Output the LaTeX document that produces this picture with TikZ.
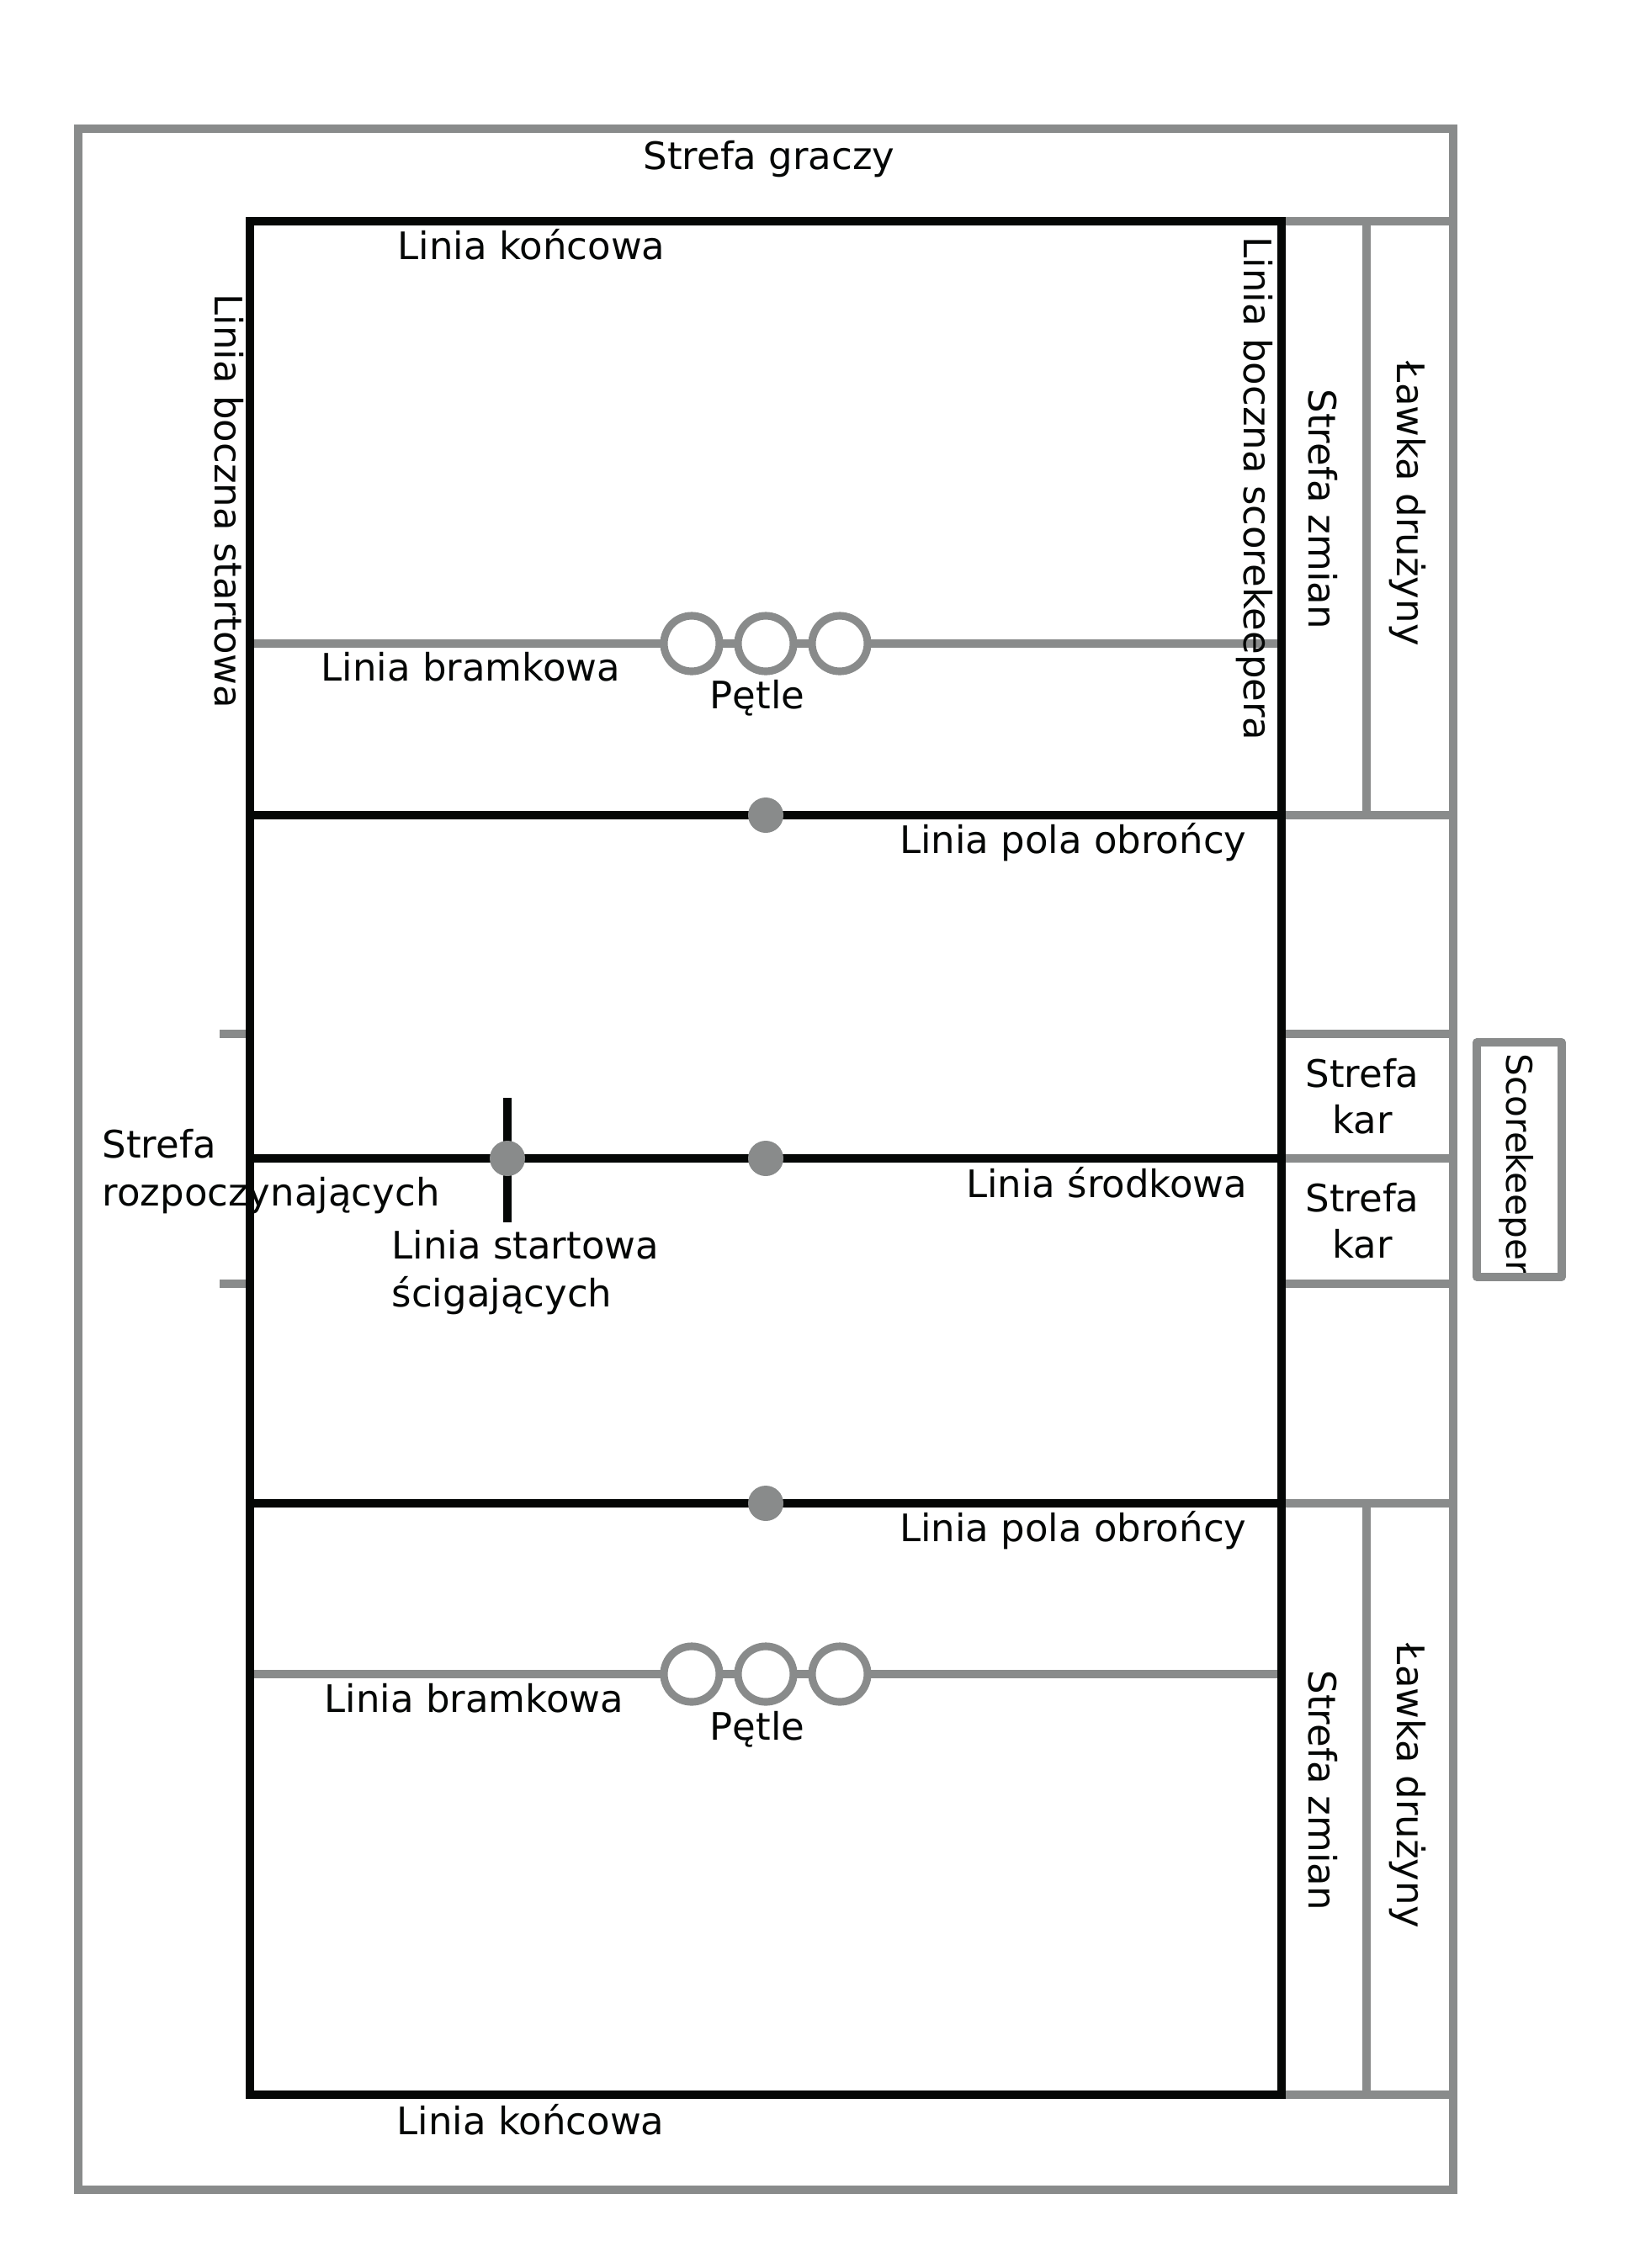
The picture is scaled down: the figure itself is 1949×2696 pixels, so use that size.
\documentclass[tikz,border=0pt]{standalone}
\usepackage{fontspec}
\setmainfont{DejaVu Sans}
\definecolor{lanegrey}{HTML}{898B8B}
\definecolor{courtink}{HTML}{050706}

\begin{document}
\begin{tikzpicture}[
  x=0.01cm,
  y=-0.01cm,
  every node/.style={font=\fontsize{12.8}{15.4}\selectfont, courtink, inner sep=0pt},
  zone/.style={lanegrey, line width=2.7pt},
  court/.style={courtink, line width=2.8pt},
  hoop/.style={lanegrey, line width=2.6pt, fill=white},
  spot/.style={lanegrey, fill=lanegrey},
  side/.style={rotate=-90, anchor=base west},
  wide/.style={font=\fontsize{12.8}{16.2}\selectfont}
]
  \useasboundingbox (0,0) rectangle (1949,2696);

  % ---- player area and the boxes along the scorekeeper side ------------
  \draw[zone] (93,153) rectangle (1727,2603);
  \foreach \y in {263, 969, 1229, 1377, 1526, 1787, 2490}
    \draw[zone] (1523,\y) -- (1727,\y);
  \draw[zone] (1624,263) -- (1624,969);
  \draw[zone] (1624,1787) -- (1624,2490);

  % marks for the starting zone on the other side
  \foreach \y in {1229, 1526}
    \draw[zone] (261,\y) -- (297,\y);

  % ---- goal lines with their hoops --------------------------------------
  \foreach \y in {765, 1990} {
    \draw[zone] (297,\y) -- (1523,\y);
    \foreach \x in {822, 910, 998}
      \draw[hoop] (\x,\y) circle[radius=33];
  }

  % ---- the pitch ---------------------------------------------------------
  \draw[court] (297,263) rectangle (1523,2490);
  \foreach \y in {969, 1377, 1787}
    \draw[court] (297,\y) -- (1523,\y);
  \draw[court] (603,1305) -- (603,1453);

  \foreach \p in {(910,969), (910,1377), (910,1787), (603,1377)}
    \fill[spot] \p circle[radius=21];

  % ---- scorekeeper's table -----------------------------------------------
  % the word runs a little past the box and is cut off by its frame
  \begin{scope}
    \clip (1760,1244) rectangle (1851,1514);
    \node[side, font=\fontsize{12}{14.4}\selectfont] (scorekeeper)
      at (1790,1252) {Scorekeeper};
  \end{scope}
  \draw[zone, line join=round] (1755,1239) rectangle (1856,1518);

  % ---- labels, upper half ------------------------------------------------
  \node[anchor=base] (graczy) at (914,201) {Strefa graczy};
  \node[anchor=base west] (koncowaN) at (472,308) {Linia końcowa};
  \node[side] (startowa) at (255,349) {Linia boczna startowa};
  \node[side] (bocznaScore) at (1478,281) {Linia boczna scorekeepera};
  \node[side] (zmianN) at (1555,462) {Strefa zmian};
  \node[side] (lawkaN) at (1660,429) {Ławka drużyny};
  \node[anchor=base west] (bramkowaN) at (381,809) {Linia bramkowa};
  \node[anchor=base] (petleN) at (900,842) {Pętle};
  \node[anchor=base east] (obroncyN) at (1482,1014) {Linia pola obrońcy};

  % ---- labels, middle ------------------------------------------------------
  % two-line labels sit on the baseline of their last line
  \node[anchor=base, align=center] (karN) at (1619,1347) {Strefa\\kar};
  \node[anchor=base, align=center] (karS) at (1619,1495) {Strefa\\kar};
  \node[anchor=base west, align=left, wide] (rozp) at (121,1433)
    {Strefa\\rozpoczynających};
  \node[anchor=base east] (srodkowa) at (1483,1423) {Linia środkowa};
  \node[anchor=base west, align=left, wide] (startScig) at (465,1553)
    {Linia startowa\\ścigających};

  % ---- labels, lower half ------------------------------------------------
  \node[anchor=base east] (obroncyS) at (1482,1832) {Linia pola obrońcy};
  \node[anchor=base west] (bramkowaS) at (385,2035) {Linia bramkowa};
  \node[anchor=base] (petleS) at (900,2068) {Pętle};
  \node[side] (zmianS) at (1555,1985) {Strefa zmian};
  \node[side] (lawkaS) at (1660,1953) {Ławka drużyny};
  \node[anchor=base west] (koncowaS) at (471,2537) {Linia końcowa};
\end{tikzpicture}
\end{document}
